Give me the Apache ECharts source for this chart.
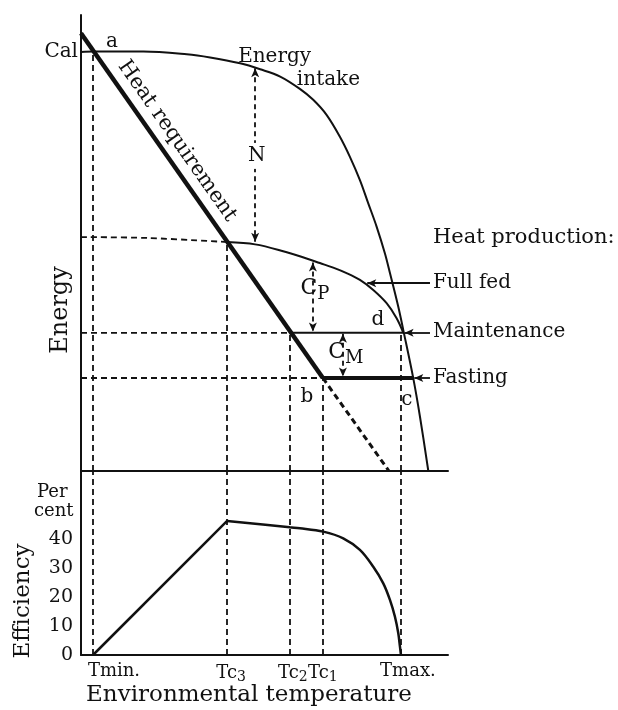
<!DOCTYPE html>
<html>
<head>
<meta charset="utf-8">
<script src="https://cdn.jsdelivr.net/npm/echarts@6/dist/echarts.min.js"></script>
<style>html,body{margin:0;background:#fff}#main{width:618px;height:710px}</style>
</head>
<body>
<div id="main"></div>
<script>
// temperature marks on the x axis (arbitrary units 0..110)
var tempNames = ['Tmin.', 'Tc3', 'Tc2', 'Tc1', 'Tmax.'];
var tempValues = [3.6, 43.8, 62.6, 72.5, 95.9];
// where each dashed drop line starts in the energy panel
var dropTops = [91.9, 50.2, 30.3, 20.4, 30.3];
var effTicks = [0, 10, 20, 30, 40];

var maintenanceLevel = 30.3;
var fastingLevel = 20.4;

var energyIntake = [[0, 91.9], [3.7, 92.0], [18.7, 92.0], [31.7, 91.4], [38.7, 90.7], [47.7, 89.4],
    [53.7, 88.1], [59.7, 86.5], [65.6, 83.8], [69.6, 81.4], [73.6, 78.1], [77.6, 73.3], [80.6, 68.9],
    [83.6, 63.8], [86.1, 58.7], [88.6, 53.6], [91.1, 47.7], [92.6, 43.4], [95.1, 36.0], [96.6, 30.9],
    [99.6, 20.3], [101.6, 11.9], [104.1, 0]];
var heatReq = [[0, 96], [72.5, 20.4]];
var heatReqExtra = [[72.5, 20.4], [92.3, 0]];
var fullFedLow = [[0, 51.3], [20, 51.1], [43.8, 50.2]];
var fullFed = [[43.8, 50.2], [52.2, 49.7], [60.6, 48.2], [67.6, 46.6], [71.6, 45.6], [75.6, 44.6],
    [79.6, 43.4], [83.6, 41.9], [87.6, 39.7], [91.6, 36.8], [94.6, 33.5], [96.6, 30.3]];
var maintLow = [[0, maintenanceLevel], [62.6, maintenanceLevel]];
var maint = [[62.6, maintenanceLevel], [96.8, maintenanceLevel]];
var fastLow = [[0, fastingLevel], [72.5, fastingLevel]];
var fast = [[72.5, fastingLevel], [99.7, fastingLevel]];

var effRise = [[3.6, 0], [43.8, 46.2]];
var effFall = [[43.8, 46.2], [62.6, 44.0], [65.6, 43.7], [72.6, 42.5], [78.6, 40.2], [83.6, 36.2],
    [87.6, 30.4], [90.6, 24.7], [92.6, 19.0], [94.1, 13.2], [95.1, 7.5], [95.6, 2.9], [95.9, 0]];

var FONT = 'DejaVu Serif';
var INK = '#111';

var chart = echarts.init(document.getElementById('main'));

var notes = [
    {value: [9.3, 94.1], text: 'a'},
    {value: [47.1, 90.8], text: 'Energy', align: 'left'},
    {value: [64.7, 85.7], text: 'intake', align: 'left'},
    {value: [28.8, 72.4], text: 'Heat requirement', rotate: -55, size: 21},
    {value: [52.7, 69.1], text: 'N', bg: true},
    {value: [70.1, 40.1], text: '{c|C}{s|P}'},
    {value: [79.4, 26.1], text: '{c|C}{s|M}'},
    {value: [89.0, 33.1], text: 'd'},
    {value: [67.7, 16.2], text: 'b'},
    {value: [97.7, 15.6], text: 'c'},
    {value: [105.5, 51.3], text: 'Heat production:', align: 'left', size: 21},
    {value: [105.5, 41.2], text: 'Full fed', align: 'left'},
    {value: [105.5, 30.5], text: 'Maintenance', align: 'left'},
    {value: [105.5, 20.4], text: 'Fasting', align: 'left'}
];

var richSub = {
    c: {fontFamily: FONT, fontSize: 22, color: INK},
    s: {fontFamily: FONT, fontSize: 18, color: INK, padding: [12, 0, 0, 0]}
};

// nudges the temperature names to the right, like the hand lettering
var tickShift = [42, 8, 6, 0, 14];
var tickRich = {s: {fontFamily: FONT, fontSize: 14, color: INK, padding: [8, 0, 0, 0]}};
tickShift.forEach(function (p, i) {
    tickRich['m' + i] = {fontFamily: FONT, fontSize: 18, color: INK, padding: [0, 0, 0, p]};
});

function plain(data, width, dashed, smooth, xi) {
    return {
        type: 'line', data: data, xAxisIndex: xi || 0, yAxisIndex: xi || 0,
        symbol: 'none', smooth: smooth ? 0.35 : false, silent: true,
        lineStyle: {color: INK, width: width, type: dashed ? [6, 4] : 'solid'}
    };
}

function arrow(from, to, both, dashed) {
    return [
        {coord: from, symbol: both ? 'arrow' : 'none', symbolSize: [6, 9]},
        {coord: to, symbol: 'arrow', symbolSize: [6, 9],
            lineStyle: {type: dashed ? [5, 4] : 'solid'}}
    ];
}

var option = {
    backgroundColor: '#fff',
    animation: false,
    grid: [
        {left: 81, top: 15, width: 367, height: 456},
        {left: 81, top: 471, width: 367, height: 184}
    ],
    xAxis: [
        {type: 'value', gridIndex: 0, min: 0, max: 110,
            axisLine: {lineStyle: {color: INK, width: 2}},
            axisTick: {show: false}, axisLabel: {show: false}, splitLine: {show: false}},
        {type: 'value', gridIndex: 1, min: 0, max: 110,
            axisLine: {lineStyle: {color: INK, width: 2}},
            axisTick: {show: false}, splitLine: {show: false},
            axisLabel: {
                customValues: tempValues, margin: 7, color: INK,
                fontFamily: FONT, fontSize: 18,
                formatter: function (v) {
                    var i = tempValues.indexOf(v);
                    var n = tempNames[i] || '';
                    if (/^Tc\d$/.test(n)) return '{m' + i + '|Tc}{s|' + n.charAt(2) + '}';
                    return '{m' + i + '|' + n + '}';
                },
                rich: tickRich
            }}
    ],
    yAxis: [
        {type: 'value', gridIndex: 0, min: 0, max: 100,
            axisLine: {show: true, lineStyle: {color: INK, width: 2}},
            axisTick: {show: false}, splitLine: {show: false},
            axisLabel: {customValues: [dropTops[0]], formatter: function () { return 'Cal'; },
                margin: 3, color: INK, fontFamily: FONT, fontSize: 20}},
        {type: 'value', gridIndex: 1, min: 0, max: 63.4, interval: 10,
            axisLine: {show: true, lineStyle: {color: INK, width: 2}},
            axisTick: {show: false}, splitLine: {show: false},
            axisLabel: {customValues: effTicks, margin: 8, color: INK, fontFamily: FONT, fontSize: 19}}
    ],
    graphic: [
        {type: 'text', x: 61, y: 310, rotation: Math.PI / 2,
            style: {text: 'Energy', font: '24px "DejaVu Serif"', fill: INK, align: 'center', verticalAlign: 'middle'}},
        {type: 'text', x: 23, y: 601, rotation: Math.PI / 2,
            style: {text: 'Efficiency', font: '23px "DejaVu Serif"', fill: INK, align: 'center', verticalAlign: 'middle'}},
        {type: 'text', x: 37, y: 492,
            style: {text: 'Per', font: '18px "DejaVu Serif"', fill: INK, align: 'left', verticalAlign: 'middle'}},
        {type: 'text', x: 34, y: 511,
            style: {text: 'cent', font: '18px "DejaVu Serif"', fill: INK, align: 'left', verticalAlign: 'middle'}},
        {type: 'text', x: 249, y: 695,
            style: {text: 'Environmental temperature', font: '23px "DejaVu Serif"', fill: INK, align: 'center', verticalAlign: 'middle'}}
    ],
    series: [
        plain(energyIntake, 2, false, true),
        plain(heatReq, 4.5, false, false),
        plain(heatReqExtra, 3, true, false),
        plain(fullFedLow, 1.8, true, true),
        plain(fullFed, 2, false, true),
        plain(maintLow, 1.8, true, false),
        plain(maint, 2, false, false),
        plain(fastLow, 1.8, true, false),
        plain(fast, 4, false, false),
        {
            type: 'scatter', xAxisIndex: 0, yAxisIndex: 0, symbolSize: 0, silent: true,
            itemStyle: {opacity: 1},
            data: notes.map(function (n) {
                return {
                    value: n.value,
                    label: {
                        show: true, position: 'inside', formatter: n.text,
                        align: n.align || 'center', rotate: n.rotate || 0,
                        fontFamily: FONT, fontSize: n.size || 20, color: INK, opacity: 1,
                        textBorderWidth: 0, textBorderColor: 'transparent',
                        backgroundColor: n.bg ? '#fff' : 'transparent', padding: n.bg ? [3, 0] : 0,
                        rich: richSub
                    }
                };
            }),
            markLine: {
                silent: true, animation: false, symbol: 'none', label: {show: false},
                lineStyle: {color: INK, width: 1.8, type: [6, 4], opacity: 1},
                data: tempValues.map(function (t, i) {
                    return [{coord: [t, 0]}, {coord: [t, dropTops[i]]}];
                }).concat([
                    arrow([52.2, 88.3], [52.2, 50.3], true, true),
                    arrow([69.5, 45.7], [69.5, 30.6], true, true),
                    arrow([78.5, 30.1], [78.5, 20.7], true, true),
                    arrow([104.6, 41.2], [85.8, 41.2], false, false),
                    arrow([104.6, maintenanceLevel], [97.0, maintenanceLevel], false, false),
                    arrow([104.6, fastingLevel], [99.9, fastingLevel], false, false)
                ])
            },
            z: 5
        },
        plain(effRise, 2.5, false, false, 1),
        plain(effFall, 2.5, false, true, 1),
        {
            type: 'line', xAxisIndex: 1, yAxisIndex: 1, data: [], symbol: 'none',
            markLine: {
                silent: true, animation: false, symbol: 'none', label: {show: false},
                lineStyle: {color: INK, width: 1.8, type: [6, 4]},
                data: tempValues.map(function (t) { return {xAxis: t}; })
            }
        }
    ]
};

chart.setOption(option);
</script>
</body>
</html>
